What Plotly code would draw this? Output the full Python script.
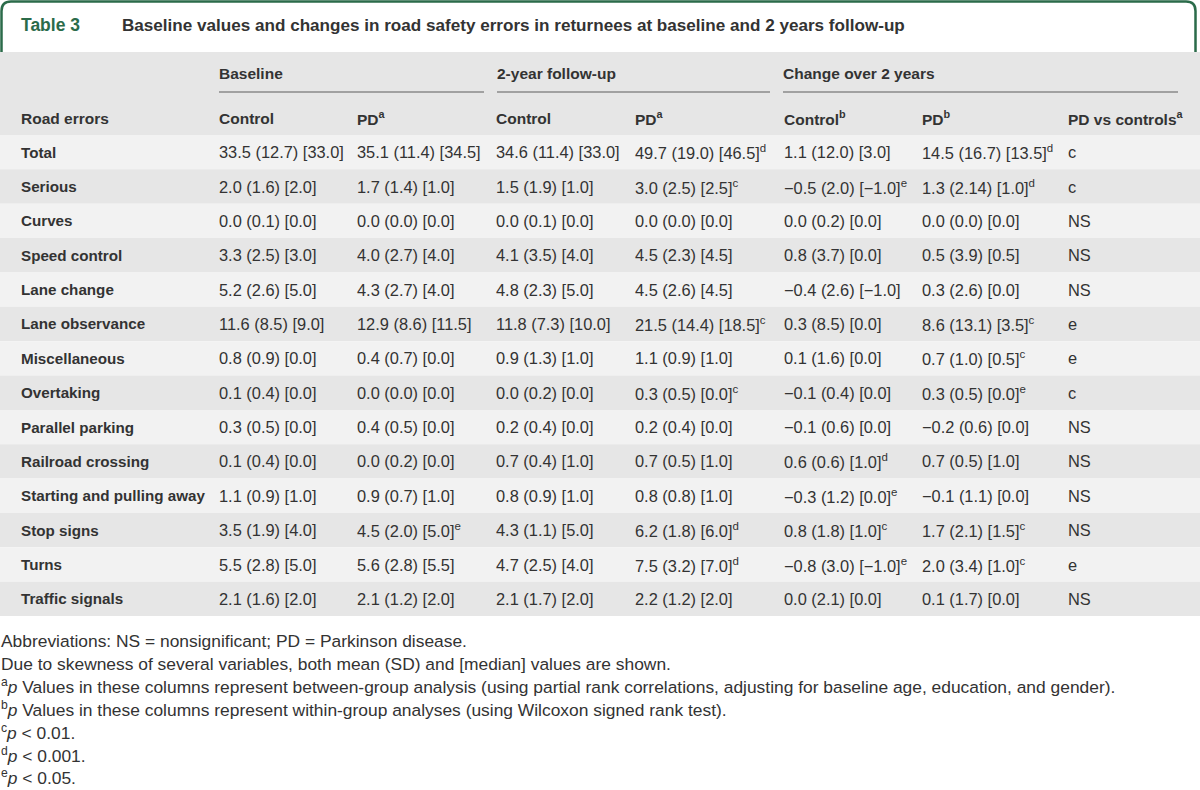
import plotly.graph_objects as go

# ---------------- data ----------------
road_errors = ["Total", "Serious", "Curves", "Speed control", "Lane change",
               "Lane observance", "Miscellaneous", "Overtaking", "Parallel parking",
               "Railroad crossing", "Starting and pulling away", "Stop signs",
               "Turns", "Traffic signals"]

baseline_control = ["33.5 (12.7) [33.0]", "2.0 (1.6) [2.0]", "0.0 (0.1) [0.0]", "3.3 (2.5) [3.0]",
                    "5.2 (2.6) [5.0]", "11.6 (8.5) [9.0]", "0.8 (0.9) [0.0]", "0.1 (0.4) [0.0]",
                    "0.3 (0.5) [0.0]", "0.1 (0.4) [0.0]", "1.1 (0.9) [1.0]", "3.5 (1.9) [4.0]",
                    "5.5 (2.8) [5.0]", "2.1 (1.6) [2.0]"]
baseline_control_sup = [""] * 14

baseline_pd = ["35.1 (11.4) [34.5]", "1.7 (1.4) [1.0]", "0.0 (0.0) [0.0]", "4.0 (2.7) [4.0]",
               "4.3 (2.7) [4.0]", "12.9 (8.6) [11.5]", "0.4 (0.7) [0.0]", "0.0 (0.0) [0.0]",
               "0.4 (0.5) [0.0]", "0.0 (0.2) [0.0]", "0.9 (0.7) [1.0]", "4.5 (2.0) [5.0]",
               "5.6 (2.8) [5.5]", "2.1 (1.2) [2.0]"]
baseline_pd_sup = ["", "", "", "", "", "", "", "", "", "", "", "e", "", ""]

followup_control = ["34.6 (11.4) [33.0]", "1.5 (1.9) [1.0]", "0.0 (0.1) [0.0]", "4.1 (3.5) [4.0]",
                    "4.8 (2.3) [5.0]", "11.8 (7.3) [10.0]", "0.9 (1.3) [1.0]", "0.0 (0.2) [0.0]",
                    "0.2 (0.4) [0.0]", "0.7 (0.4) [1.0]", "0.8 (0.9) [1.0]", "4.3 (1.1) [5.0]",
                    "4.7 (2.5) [4.0]", "2.1 (1.7) [2.0]"]
followup_control_sup = [""] * 14

followup_pd = ["49.7 (19.0) [46.5]", "3.0 (2.5) [2.5]", "0.0 (0.0) [0.0]", "4.5 (2.3) [4.5]",
               "4.5 (2.6) [4.5]", "21.5 (14.4) [18.5]", "1.1 (0.9) [1.0]", "0.3 (0.5) [0.0]",
               "0.2 (0.4) [0.0]", "0.7 (0.5) [1.0]", "0.8 (0.8) [1.0]", "6.2 (1.8) [6.0]",
               "7.5 (3.2) [7.0]", "2.2 (1.2) [2.0]"]
followup_pd_sup = ["d", "c", "", "", "", "c", "", "c", "", "", "", "d", "d", ""]

change_control = ["1.1 (12.0) [3.0]", "\u22120.5 (2.0) [\u22121.0]", "0.0 (0.2) [0.0]", "0.8 (3.7) [0.0]",
                  "\u22120.4 (2.6) [\u22121.0]", "0.3 (8.5) [0.0]", "0.1 (1.6) [0.0]",
                  "\u22120.1 (0.4) [0.0]", "\u22120.1 (0.6) [0.0]", "0.6 (0.6) [1.0]",
                  "\u22120.3 (1.2) [0.0]", "0.8 (1.8) [1.0]", "\u22120.8 (3.0) [\u22121.0]",
                  "0.0 (2.1) [0.0]"]
change_control_sup = ["", "e", "", "", "", "", "", "", "", "d", "e", "c", "e", ""]

change_pd = ["14.5 (16.7) [13.5]", "1.3 (2.14) [1.0]", "0.0 (0.0) [0.0]", "0.5 (3.9) [0.5]",
             "0.3 (2.6) [0.0]", "8.6 (13.1) [3.5]", "0.7 (1.0) [0.5]", "0.3 (0.5) [0.0]",
             "\u22120.2 (0.6) [0.0]", "0.7 (0.5) [1.0]", "\u22120.1 (1.1) [0.0]", "1.7 (2.1) [1.5]",
             "2.0 (3.4) [1.0]", "0.1 (1.7) [0.0]"]
change_pd_sup = ["d", "d", "", "", "", "c", "c", "e", "", "", "", "c", "c", ""]

pd_vs_controls = ["c", "c", "NS", "NS", "NS", "e", "e", "c", "NS", "NS", "NS", "NS", "e", "NS"]

group_headers = ["Baseline", "2-year follow-up", "Change over 2 years"]
column_headers = ["Road errors", "Control", "PD<sup>a</sup>", "Control", "PD<sup>a</sup>",
                  "Control<sup>b</sup>", "PD<sup>b</sup>", "PD vs controls<sup>a</sup>"]

title_label = "Table 3"
title_text = "Baseline values and changes in road safety errors in returnees at baseline and 2 years follow-up"

footnotes = [
    "Abbreviations: NS = nonsignificant; PD = Parkinson disease.",
    "Due to skewness of several variables, both mean (SD) and [median] values are shown.",
    "<sup>a</sup><i>p</i> Values in these columns represent between-group analysis (using partial rank correlations, adjusting for baseline age, education, and gender).",
    "<sup>b</sup><i>p</i> Values in these columns represent within-group analyses (using Wilcoxon signed rank test).",
    "<sup>c</sup><i>p</i> &lt; 0.01.",
    "<sup>d</sup><i>p</i> &lt; 0.001.",
    "<sup>e</sup><i>p</i> &lt; 0.05.",
]

# ---------------- layout / style ----------------
W, H = 1200, 790
FONT = "Liberation Sans"
TXT = "#333333"
GREEN = "#2b6b4a"
HEAD_BG = "#e6e6e6"
ROW_LIGHT = "#f2f2f2"
ROW_DARK = "#e6e6e6"
VAL_SIZE = 16.4
LABEL_SIZE = 15.2
HEAD_SIZE = 15.5
FOOT_SIZE = 17.4

col_x = [19, 217, 355, 494, 633, 782, 920, 1066]
group_spans = [(219, 484), (497, 770), (783, 1178)]
header_top, header_bottom = 52, 135
row_h = 34.36
foot_y0, foot_dy = 641, 22.7


def fnt(size, color=TXT, bold=False):
    return dict(size=size, color=color, family=FONT, weight=700 if bold else 400)


fig = go.Figure()
shapes = []
ann = []

# title tab
shapes.append(dict(type="path", xref="x", yref="y",
                   path="M 1.5,52 L 1.5,11 Q 1.5,1.5 11,1.5 L 1186,1.5 Q 1195.5,1.5 1195.5,11 L 1195.5,52",
                   line=dict(color=GREEN, width=2.5), fillcolor="rgba(0,0,0,0)"))
ann.append(dict(x=19, y=25, text=title_label, font=fnt(17.5, GREEN, True)))
ann.append(dict(x=120, y=25, text=title_text, font=fnt(17.1, TXT, True)))

# header band
shapes.append(dict(type="rect", xref="x", yref="y", x0=0, x1=W, y0=header_top, y1=header_bottom,
                   fillcolor=HEAD_BG, line=dict(width=0), layer="below"))
for (x0, x1), g in zip(group_spans, group_headers):
    ann.append(dict(x=x0 - 2, y=73, text=g, font=fnt(HEAD_SIZE, bold=True)))
    shapes.append(dict(type="line", xref="x", yref="y", x0=x0, x1=x1, y0=92, y1=92,
                       line=dict(color="#8a8a8a", width=1.5)))
for x, c in zip(col_x, column_headers):
    ann.append(dict(x=x, y=118, text=c, font=fnt(HEAD_SIZE, bold=True)))

# body rows
value_cols = [(baseline_control, baseline_control_sup), (baseline_pd, baseline_pd_sup),
              (followup_control, followup_control_sup), (followup_pd, followup_pd_sup),
              (change_control, change_control_sup), (change_pd, change_pd_sup),
              (pd_vs_controls, [""] * 14)]
for i, name in enumerate(road_errors):
    y0 = header_bottom + i * row_h
    shapes.append(dict(type="rect", xref="x", yref="y", x0=0, x1=W, y0=y0, y1=y0 + row_h,
                       fillcolor=ROW_LIGHT if i % 2 == 0 else ROW_DARK, line=dict(width=0), layer="below"))
    yc = y0 + row_h / 2
    ann.append(dict(x=col_x[0], y=yc, text=name, font=fnt(LABEL_SIZE, bold=True)))
    for j, (vals, sups) in enumerate(value_cols):
        t = vals[i] + (f"<sup>{sups[i]}</sup>" if sups[i] else "")
        ann.append(dict(x=col_x[j + 1], y=yc, text=t, font=fnt(VAL_SIZE)))

# footnotes
for k, f in enumerate(footnotes):
    ann.append(dict(x=0, xshift=-1, y=foot_y0 + k * foot_dy, text=f, font=fnt(FOOT_SIZE)))

for a in ann:
    a.update(xref="x", yref="y", xanchor="left", yanchor="middle", showarrow=False)

fig.update_layout(
    width=W, height=H, margin=dict(l=0, r=0, t=0, b=0),
    paper_bgcolor="white", plot_bgcolor="white",
    font=dict(family=FONT, size=VAL_SIZE, color=TXT),
    xaxis=dict(range=[0, W], visible=False, fixedrange=True),
    yaxis=dict(range=[H, 0], visible=False, fixedrange=True),
    shapes=shapes, annotations=ann, showlegend=False,
)
fig.write_html("out.html", config={"displayModeBar": False},
               post_script="document.body.style.margin='0';document.body.style.overflow='hidden';")
